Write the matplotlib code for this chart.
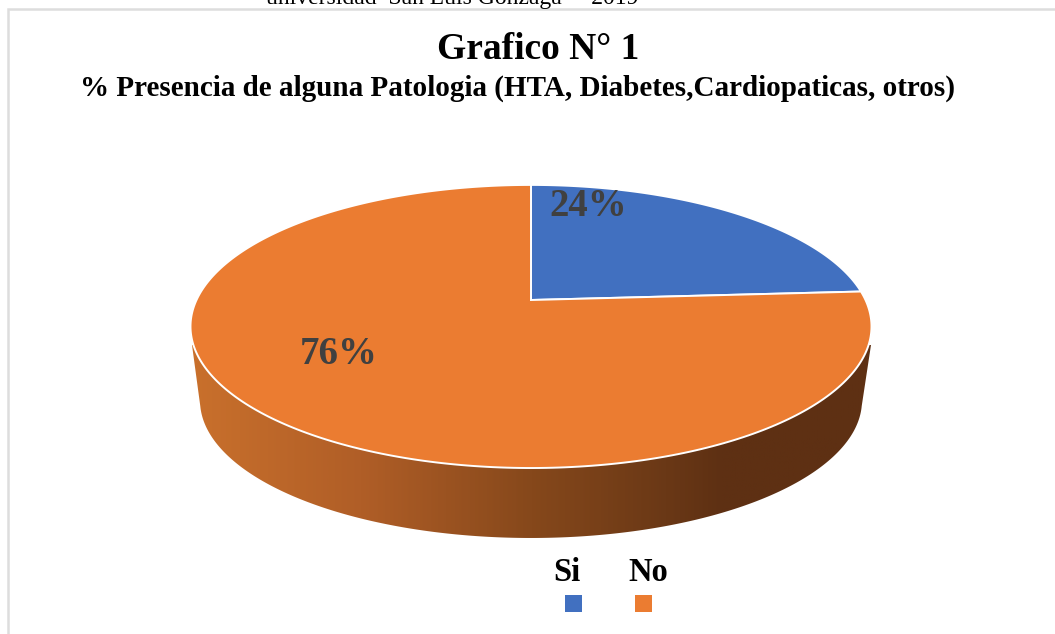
import numpy as np
import matplotlib
matplotlib.use("Agg")
import matplotlib.pyplot as plt
from matplotlib.colors import LinearSegmentedColormap
from matplotlib.patches import Polygon, Rectangle

categorias = ["Si", "No"]
valores = [24, 76]
etiquetas = ["24%", "76%"]
colores = ["#4170C0", "#EB7C31"]

titulo = "Grafico N° 1"
subtitulo = "% Presencia de alguna Patologia (HTA, Diabetes,Cardiopaticas, otros)"
encabezado = "universidad  San Luis Gonzaga  – 2019"

plt.rcParams["font.family"] = ["Liberation Serif", "DejaVu Serif"]

# centro del pie y parametros de la perspectiva (en pixeles)
cx, cy = 531, 300
A, B, k = 334.5, 136.6, 0.187


def proyectar(ang):
    # ang en radianes, sentido horario desde arriba
    u, v = np.sin(ang), np.cos(ang)
    d = 1 + k * v
    return cx + A * u / d, cy - B * v / d


fig = plt.figure(figsize=(10.55, 6.34), dpi=100)
ax = fig.add_axes([0, 0, 1, 1])
ax.set_xlim(0, 1055)
ax.set_ylim(634, 0)
ax.axis("off")

# marco del grafico
ax.plot([7.8, 7.8, 1055], [634, 8.5, 8.5], color="#DDDDDD", lw=1.8, solid_joinstyle="miter")

# lateral del pie con degradado
t = np.linspace(0, 2 * np.pi, 721)
xr, yr = proyectar(t)
xb = cx + 0.972 * (xr - cx)
yb = cy + 0.97 * (yr - cy) + 75
abajo = yb >= 405
orden = np.argsort(xb[abajo])
xl = np.concatenate([[192], xb[abajo][orden], [871]])
yl = np.concatenate([[345], yb[abajo][orden], [345]])
pared = Polygon(np.column_stack([xl, yl]), closed=True, fc="none", ec="none")
ax.add_patch(pared)
cmap = LinearSegmentedColormap.from_list(
    "lado",
    [(0.0, "#C9702C"), (0.25, "#B05E27"), (0.5, "#86481B"), (0.7, "#6A3816"), (0.78, "#5E3013"), (1.0, "#5E3013")],
)
img = ax.imshow(np.linspace(0, 1, 400)[None, :], extent=(190, 873, 540, 340), cmap=cmap, aspect="auto", zorder=2)
img.set_clip_path(pared)
ax.set_xlim(0, 1055)
ax.set_ylim(634, 0)

# caras superiores, calculadas desde los valores
fracs = np.cumsum([0] + valores) / sum(valores) * 2 * np.pi
for i in range(len(valores)):
    a = np.linspace(fracs[i], fracs[i + 1], 300)
    x, y = proyectar(a)
    ax.fill(np.r_[cx, x], np.r_[cy, y], color=colores[i], ec="white", lw=1.4, zorder=3, joinstyle="miter")

# etiquetas de datos
ax.text(588.5, 207, etiquetas[0], fontsize=28, fontweight="bold", color="#404040", ha="center", va="center", zorder=4)
ax.text(338.5, 355, etiquetas[1], fontsize=28, fontweight="bold", color="#404040", ha="center", va="center", zorder=4)

# textos
ax.text(452, 4, encabezado, fontsize=17, color="black", ha="center", va="baseline")
ax.text(538, 59, titulo, fontsize=27, fontweight="bold", ha="center", va="baseline")
ax.text(517, 96, subtitulo, fontsize=21, fontweight="bold", ha="center", va="baseline")

# leyenda
ley_x = [567, 648.5]
cuad_x = [565, 635]
for i in range(len(categorias)):
    ax.text(ley_x[i], 581, categorias[i], fontsize=23.5, fontweight="bold", ha="center", va="baseline")
    ax.add_patch(Rectangle((cuad_x[i], 595), 17, 17, fc=colores[i], ec="none"))

fig.savefig("out.png", dpi=100)
